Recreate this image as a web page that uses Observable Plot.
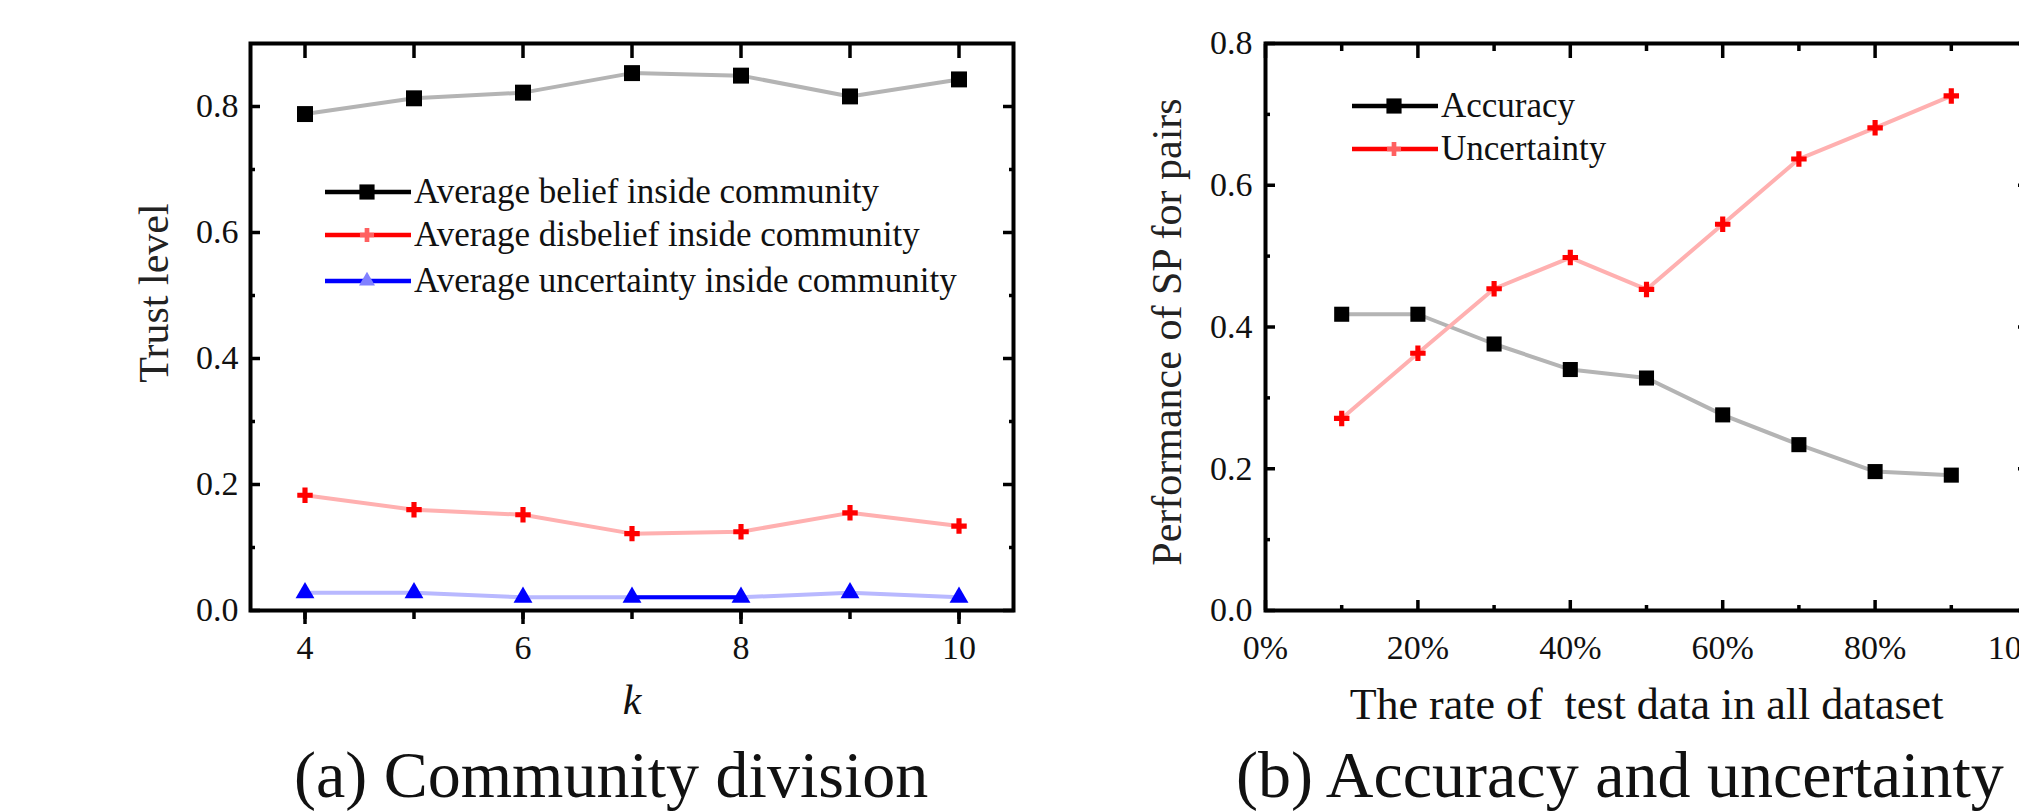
<!DOCTYPE html>
<html>
<head>
<meta charset="utf-8">
<script src="https://cdn.jsdelivr.net/npm/d3@7"></script>
<script src="https://cdn.jsdelivr.net/npm/@observablehq/plot@0.6"></script>
<style>
html, body { margin: 0; padding: 0; background: #fff; }
#wrap { position: relative; width: 2019px; height: 812px; overflow: hidden;
  font-family: "Liberation Serif", "Times New Roman", serif; color: #111; }
.panel { position: absolute; top: 0; }
svg text { white-space: pre; }
.cap { position: absolute; top: 742px; font-size: 66px; line-height: 66px; white-space: nowrap; }
.legrow { position: absolute; height: 34px; display: flex; align-items: center;
  font-size: 35px; line-height: 34px; white-space: nowrap; }
.legrow svg { margin-right: 3px; overflow: visible; }
</style>
</head>
<body>
<div id="wrap"></div>
<script>
// ---------- data ----------
const kValues = [4, 5, 6, 7, 8, 9, 10];
const beliefValues = [0.788, 0.813, 0.822, 0.853, 0.849, 0.816, 0.843];
const disbeliefValues = [0.183, 0.160, 0.152, 0.122, 0.125, 0.155, 0.134];
const uncertaintyValues = [0.028, 0.028, 0.021, 0.021, 0.021, 0.028, 0.021];

const rateValues = [10, 20, 30, 40, 50, 60, 70, 80, 90];
const accuracyValues = [0.418, 0.418, 0.376, 0.340, 0.328, 0.276, 0.234, 0.196, 0.191];
const spUncertaintyValues = [0.271, 0.363, 0.454, 0.498, 0.453, 0.545, 0.637, 0.681, 0.726];

const leftXLabelTicks = [4, 6, 8, 10];
const leftYTicks = [0, 0.2, 0.4, 0.6, 0.8];
const leftYMinorTicks = [0.1, 0.3, 0.5, 0.7];
const rightXTicks = [0, 20, 40, 60, 80, 100];
const rightXMinorTicks = [10, 30, 50, 70, 90];
const rightYTicks = [0, 0.2, 0.4, 0.6, 0.8];
const rightYMinorTicks = [0.1, 0.3, 0.5, 0.7];

const legendA = ["Average belief inside community", "Average disbelief inside community", "Average uncertainty inside community"];
const legendB = ["Accuracy", "Uncertainty"];
const xTitleA = "k";
const yTitleA = "Trust level";
const xTitleB = "The rate of  test data in all dataset";
const yTitleB = "Performance of SP for pairs";
const captionA = "(a) Community division";
const captionB = "(b) Accuracy and uncertainty";

// ---------- styles ----------
const FONT = '"Liberation Serif", "Times New Roman", serif';
const TXT = "#111";
const lightGray = "#b4b4b4", lightRed = "#ffb0b0", lightBlue = "#b8b8ff";

const wrap = document.getElementById("wrap");

const dataA = kValues.map((k, i) => ({k, belief: beliefValues[i], disbelief: disbeliefValues[i], unc: uncertaintyValues[i]}));
const dataB = rateValues.map((r, i) => ({r, acc: accuracyValues[i], unc: spUncertaintyValues[i]}));
const fmt1 = d3.format(".1f");

function tickMarksX(values, anchor, len, inward) {
  const dy = inward ? (anchor === "bottom" ? -len : len) : 0;
  return Plot.axisX(values, {anchor, tickSize: len, dy, fill: "none", stroke: "#000", strokeWidth: 3.5, label: null});
}
function tickMarksY(values, anchor, len, inward) {
  const dx = inward ? (anchor === "left" ? len : -len) : 0;
  return Plot.axisY(values, {anchor, tickSize: len, dx, fill: "none", stroke: "#000", strokeWidth: 3.5, label: null});
}

// ---------- panel (a) ----------
const plotA = Plot.plot({
  width: 1100, height: 740,
  marginLeft: 250, marginRight: 87, marginTop: 43, marginBottom: 130,
  style: {fontFamily: FONT, fontSize: "34px", color: TXT, background: "transparent", overflow: "visible"},
  x: {domain: [3.5, 10.5], label: null},
  y: {domain: [0, 0.9], label: null},
  marks: [
    Plot.line(dataA, {x: "k", y: "belief", stroke: lightGray, strokeWidth: 4}),
    Plot.line(dataA, {x: "k", y: "disbelief", stroke: lightRed, strokeWidth: 4}),
    Plot.line(dataA, {x: "k", y: "unc", stroke: lightBlue, strokeWidth: 4}),
    Plot.line(dataA.filter(d => d.k >= 7 && d.k <= 8), {x: "k", y: "unc", stroke: "#0000ff", strokeWidth: 4}),
    Plot.dot(dataA, {x: "k", y: "belief", symbol: "square", r: 9, fill: "#000"}),
    Plot.dot(dataA, {x: "k", y: "disbelief", symbol: "cross", r: 6.5, fill: "#ff0000"}),
    Plot.dot(dataA, {x: "k", y: "unc", symbol: "triangle", r: 7, fill: "#0000ff"}),
    // ticks
    tickMarksX(kValues, "bottom", 9, false),
    tickMarksX(leftXLabelTicks, "bottom", 14, false),
    tickMarksX(kValues, "top", 14, true),
    tickMarksY(leftYTicks, "left", 10, true),
    tickMarksY(leftYMinorTicks, "left", 5, true),
    tickMarksY(leftYTicks, "right", 11, true),
    tickMarksY(leftYMinorTicks, "right", 5, true),
    // tick labels
    Plot.axisX(leftXLabelTicks, {anchor: "bottom", tickSize: 0, tickPadding: 24, tickFormat: d => String(d), fill: TXT, label: null}),
    Plot.axisY(leftYTicks, {anchor: "left", tickSize: 0, tickPadding: 12, tickFormat: fmt1, fill: TXT, label: null}),
    // axis titles
    Plot.text([xTitleA], {frameAnchor: "bottom", dy: 90, text: d => d, fontSize: 42, fontStyle: "italic", textAnchor: "middle", lineAnchor: "middle", fill: TXT}),
    Plot.text([yTitleA], {frameAnchor: "left", dx: -96, dy: -34, rotate: -90, text: d => d, fontSize: 42, textAnchor: "middle", lineAnchor: "middle", fill: "#222"}),
    Plot.frame({stroke: "#000", strokeWidth: 4})
  ]
});
plotA.classList.add("panel");
plotA.style.left = "0px";
wrap.appendChild(plotA);

// ---------- panel (b) ----------
const plotB = Plot.plot({
  width: 1000, height: 740,
  marginLeft: 165, marginRight: 73, marginTop: 43, marginBottom: 130,
  style: {fontFamily: FONT, fontSize: "34px", color: TXT, background: "transparent", overflow: "visible"},
  x: {domain: [0, 100], label: null},
  y: {domain: [0, 0.8], label: null},
  marks: [
    Plot.line(dataB, {x: "r", y: "acc", stroke: lightGray, strokeWidth: 4}),
    Plot.line(dataB, {x: "r", y: "unc", stroke: lightRed, strokeWidth: 4}),
    Plot.dot(dataB, {x: "r", y: "acc", symbol: "square", r: 8.5, fill: "#000"}),
    Plot.dot(dataB, {x: "r", y: "unc", symbol: "cross", r: 6.5, fill: "#ff0000"}),
    // ticks
    tickMarksX(rightXTicks, "bottom", 10, true),
    tickMarksX(rightXMinorTicks, "bottom", 5, true),
    tickMarksX(rightXTicks, "top", 14, true),
    tickMarksX(rightXMinorTicks, "top", 7, true),
    tickMarksY(rightYTicks, "left", 10, true),
    tickMarksY(rightYMinorTicks, "left", 5, true),
    tickMarksY(rightYTicks, "right", 10, true),
    tickMarksY(rightYMinorTicks, "right", 5, true),
    // tick labels
    Plot.axisX(rightXTicks, {anchor: "bottom", tickSize: 0, tickPadding: 24, tickFormat: d => d + "%", fill: TXT, label: null}),
    Plot.axisY(rightYTicks, {anchor: "left", tickSize: 0, tickPadding: 13, tickFormat: fmt1, fill: TXT, label: null}),
    // axis titles
    Plot.text([xTitleB], {frameAnchor: "bottom", dy: 94, text: d => d, fontSize: 44, textAnchor: "middle", lineAnchor: "middle", fill: TXT}),
    Plot.text([yTitleB], {frameAnchor: "left", dx: -98, dy: 5, rotate: -90, text: d => d, fontSize: 42, textAnchor: "middle", lineAnchor: "middle", fill: "#222"}),
    Plot.frame({stroke: "#000", strokeWidth: 4})
  ]
});
plotB.classList.add("panel");
plotB.style.left = "1100px";
wrap.appendChild(plotB);

// ---------- legends ----------
function swatch(lineColor, symbol, size, markColor) {
  const s = d3.create("svg").attr("width", 86).attr("height", 34);
  s.append("line").attr("x1", 0).attr("x2", 86).attr("y1", 17).attr("y2", 17)
    .attr("stroke", lineColor).attr("stroke-width", 4.5);
  s.append("path").attr("transform", "translate(42,17)")
    .attr("d", d3.symbol(symbol, size)()).attr("fill", markColor);
  return s.node();
}
function legendRow(left, cy, label, sw) {
  const row = document.createElement("div");
  row.className = "legrow";
  row.style.left = left + "px";
  row.style.top = (cy - 17) + "px";
  row.appendChild(sw);
  const t = document.createElement("span");
  t.textContent = label;
  row.appendChild(t);
  wrap.appendChild(row);
}
const legAStyles = [["#000", d3.symbolSquare, 230, "#000"], ["#ff0000", d3.symbolCross, 110, "#ff6060"], ["#0000ff", d3.symbolTriangle, 110, "#8080ff"]];
const legARows = [192, 235, 281];
legendA.forEach((lab, i) => legendRow(325, legARows[i], lab, swatch(...legAStyles[i])));
const legBStyles = [["#000", d3.symbolSquare, 230, "#000"], ["#ff0000", d3.symbolCross, 110, "#ff6060"]];
const legBRows = [106, 149];
legendB.forEach((lab, i) => legendRow(1352, legBRows[i], lab, swatch(...legBStyles[i])));

// ---------- captions ----------
[[captionA, 294], [captionB, 1236]].forEach(([txt, left]) => {
  const c = document.createElement("div");
  c.className = "cap";
  c.style.left = left + "px";
  c.textContent = txt;
  wrap.appendChild(c);
});
</script>
</body>
</html>
